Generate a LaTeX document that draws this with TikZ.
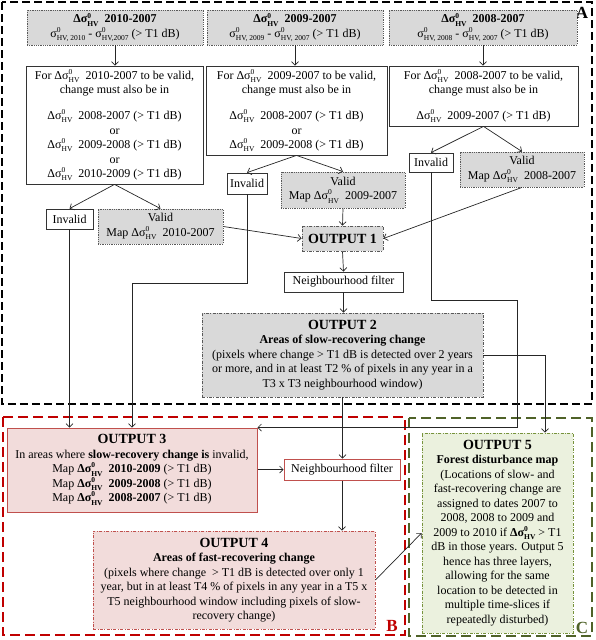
\documentclass[tikz,border=0pt]{standalone}
\usepackage{fontspec}
\setmainfont{Liberation Serif}
\usetikzlibrary{arrows.meta,positioning}
\definecolor{boxgray}{RGB}{217,217,217}
\definecolor{pinkfill}{RGB}{242,220,219}
\definecolor{redline}{RGB}{192,80,77}
\definecolor{darkred}{RGB}{192,0,0}
\definecolor{greenfill}{RGB}{235,241,222}
\definecolor{greenline}{RGB}{119,147,60}
\definecolor{darkgreen}{RGB}{79,98,40}
\newcommand{\supz}{\rlap{\raisebox{0.9ex}{\fontsize{7.5}{7.5}\selectfont 0}}}
\newcommand{\subt}[1]{\raisebox{-0.6ex}{\fontsize{7.5}{7.5}\selectfont #1}}
\newcommand{\dsHV}{Δσ\supz\subt{HV}}
\newcommand{\sHV}[1]{σ\supz\subt{HV#1}}
\newcommand{\ttl}[1]{{\fontsize{14}{15}\selectfont\bfseries #1}}

\begin{document}
\begin{tikzpicture}[x=1pt,y=-1pt,
	every node/.style={font=\fontsize{12}{14.5}\selectfont,align=center,inner sep=2pt,line width=0.8pt},
	graybox/.style={draw=black!65,densely dotted,fill=boxgray},
	whitebox/.style={draw=black!80,fill=white},
	outbox/.style={draw=black!65,dash pattern=on 3pt off 1.5pt on 0.8pt off 1.5pt,fill=boxgray},
	redbox/.style={draw=redline,fill=pinkfill,line width=1pt},
	reddash/.style={draw=redline,fill=pinkfill,dash pattern=on 3pt off 1.5pt on 0.8pt off 1.5pt},
	greendash/.style={draw=greenline,fill=greenfill,dash pattern=on 3pt off 1.5pt on 0.8pt off 1.5pt},
	arr/.style={-{Straight Barb[length=3.5pt,width=7pt]},line width=0.7pt,black!85}]

\useasboundingbox (0,0) rectangle (595,640);

%frames
\draw[black,line width=2.5pt,dash pattern=on 8pt off 4pt] (2,2) rectangle (592,404);% A
\draw[darkred,line width=2.5pt,dash pattern=on 10pt off 5pt] (3,417) rectangle (405,635);% B
\draw[darkgreen,line width=2.5pt,dash pattern=on 10pt off 5pt] (409,418) rectangle (592,636);% C
\node[font=\fontsize{17}{17}\selectfont\bfseries] (labA) at (582,13) {A};
\node[font=\fontsize{17}{17}\selectfont\bfseries,text=darkred] (labB) at (392,626) {B};
\node[font=\fontsize{17}{17}\selectfont\bfseries,text=darkgreen] (labC) at (582,628) {C};

%differences
\node[graybox,minimum width=176,minimum height=35] (top1) at (115,27.5)
	{\textbf{\dsHV\ \ 2010-2007}\\ \sHV{, 2010} - \sHV{,2007} (> T1 dB)};
\node[graybox,minimum width=176,minimum height=35] (top2) at (295,27.5)
	{\textbf{\dsHV\ \ 2009-2007}\\ \sHV{, 2009} - \sHV{, 2007} (> T1 dB)};
\node[graybox,minimum width=188,minimum height=35] (top3) at (483,27.5)
	{\textbf{\dsHV\ \ 2008-2007}\\ \sHV{, 2008} - \sHV{, 2007} (> T1 dB)};

%checks
\node[whitebox,minimum width=177,minimum height=118] (boxL) at (114.5,125)
	{For \dsHV\ \ 2010-2007 to be valid,\\ change must also be in\\[11.5pt]
	\dsHV\ \ 2008-2007 (> T1 dB)\\ or\\ \dsHV\ \ 2009-2008 (> T1 dB)\\ or\\ \dsHV\ \ 2010-2009 (> T1 dB)};
\node[whitebox,minimum width=181,minimum height=89] (boxM) at (296.5,110.5)
	{For \dsHV\ \ 2009-2007 to be valid,\\ change must also be in\\[11.5pt]
	\dsHV\ \ 2008-2007 (> T1 dB)\\ or\\ \dsHV\ \ 2009-2008 (> T1 dB)};
\node[whitebox,minimum width=189,minimum height=60] (boxR) at (483.5,96)
	{For \dsHV\ \ 2008-2007 to be valid,\\ change must also be in\\[11.5pt]
	\dsHV\ \ 2009-2007 (> T1 dB)};

%valid / invalid
\node[whitebox,minimum width=47,minimum height=20] (invL) at (69.5,219) {Invalid};
\node[graybox,minimum width=125,minimum height=35] (valL) at (160.5,226.5) {Valid\\ Map \dsHV\ \ 2010-2007};
\node[whitebox,minimum width=40,minimum height=21] (invM) at (247,183.5) {Invalid};
\node[graybox,minimum width=124,minimum height=36] (valM) at (343,190) {Valid\\ Map \dsHV\ \ 2009-2007};
\node[whitebox,minimum width=44,minimum height=19] (invR) at (431,162.5) {Invalid};
\node[graybox,minimum width=124,minimum height=35] (valR) at (522,169.5) {Valid\\ Map \dsHV\ \ 2008-2007};

%outputs
\node[outbox,minimum width=81,minimum height=25] (out1) at (342.5,238.5) {\ttl{OUTPUT 1}};
\node[whitebox,minimum width=119,minimum height=20] (nf1) at (343.5,282) {Neighbourhood filter};
\node[outbox,minimum width=281,minimum height=84] (out2) at (342.5,355)
	{\ttl{OUTPUT 2}\\ \textbf{Areas of slow-recovering change}\\
	(pixels where change > T1 dB is detected over 2 years\\
	or more, and in at least T2 \% of pixels in any year in a\\ T3 x T3 neighbourhood window)};
\node[redbox,minimum width=250,minimum height=84] (out3) at (132,470)
	{\ttl{OUTPUT 3}\\ In areas where \textbf{slow-recovery change is} invalid,\\
	Map \textbf{\dsHV\ \ 2010-2009} (> T1 dB)\\ Map \textbf{\dsHV\ \ 2009-2008} (> T1 dB)\\
	Map \textbf{\dsHV\ \ 2008-2007} (> T1 dB)};
\node[draw=redline,fill=white,line width=1pt,minimum width=116,minimum height=21] (nf2) at (342,469.5) {Neighbourhood filter};
\node[reddash,minimum width=282,minimum height=98] (out4) at (234,580)
	{\ttl{OUTPUT 4}\\ \textbf{Areas of fast-recovering change}\\
	(pixels where change\ \ > T1 dB is detected over only 1\\
	year, but in at least T4 \% of pixels in any year in a T5 x\\
	T5 neighbourhood window including pixels of slow-\\ recovery change)};
\node[greendash,minimum width=151,minimum height=200] (out5) at (497.5,533)
	{\ttl{OUTPUT 5}\\ \textbf{Forest disturbance map}\\ (Locations of slow- and\\
	fast-recovering change are\\ assigned to dates 2007 to\\ 2008, 2008 to 2009 and\\
	2009 to 2010 if \textbf{\dsHV} > T1\\ dB in those years. Output 5\\ hence has three layers,\\
	allowing for the same\\ location to be detected in\\ multiple time-slices if\\ repeatedly disturbed)};

%connectors
\draw[arr] (top1.south) -- (top1.south |- boxL.north);
\draw[arr] (top2.south) -- (top2.south |- boxM.north);
\draw[arr] (top3.south) -- (top3.south |- boxR.north);
\draw[arr] (boxL.south) -- (invL.north);
\draw[arr] (boxL.south) -- (valL.north);
\draw[arr] (boxM.south) -- (invM.north);
\draw[arr] (boxM.south) -- (valM.north);
\draw[arr] (boxR.south) -- (invR.north);
\draw[arr] (boxR.south) -- (valR.north);
\draw[arr] (valL.east) -- (out1.west);
\draw[arr] (valM.south) -- (out1.north);
\draw[arr] (valR.south) -- (out1.east);
\draw[arr] (out1.south) -- (nf1.north);
\draw[arr] (nf1.south) -- (nf1.south |- out2.north);

\coordinate (bendM) at (132,283);
\coordinate (bendR) at (517,300);
\draw[arr] (invL.south) -- (invL.south |- out3.north);
\draw[arr] (invM.south) |- (bendM) -- (bendM |- out3.north);
\draw[arr] (invR.south) |- (bendR) |- (out3.north east);

\draw[arr] (out2.east) -| ([xshift=47.5]out5.north);
\draw[arr] (out2.south) -- (out2.south |- nf2.north);
\draw[arr] (out3.east |- nf2.west) -- (nf2.west);
\draw[arr] (nf2.south) -- (nf2.south |- out4.north);
\draw[arr] (out4.east) -- (out5.west);

\end{tikzpicture}
\end{document}
